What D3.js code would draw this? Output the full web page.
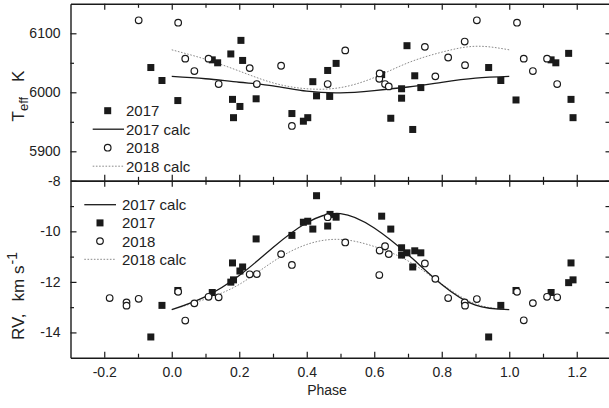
<!DOCTYPE html>
<html>
<head>
<meta charset="utf-8">
<style>
  body { margin: 0; background: #fff; }
  svg { display: block; font-family: Arial, "Liberation Sans", sans-serif; }
</style>
</head>
<body>
<svg width="609" height="408"></svg>
<script src="https://d3js.org/d3.v7.min.js"></script>
<script>

// Teff and RV against orbital phase, 2017 and 2018 observations + model curves

var teffPhase17 = [-0.062, -0.029, 0.018, 0.120, 0.136, 0.175, 0.180, 0.183, 0.202, 0.205, 0.210, 0.250,
  0.356, 0.390, 0.403, 0.418, 0.429, 0.462, 0.468, 0.487, 0.622, 0.649, 0.681, 0.681, 0.697, 0.714,
  0.720, 0.738, 0.939, 0.975, 1.020, 1.124, 1.138, 1.176, 1.183, 1.189];
var teff17 = [6042, 6020, 5986, 6055, 6050, 6065, 5988, 5957, 5976, 6088, 6054, 5989,
  5964, 5951, 5957, 6018, 5994, 6037, 5993, 6049, 6030, 5956, 6006, 5990, 6079, 5937,
  6028, 6008, 6042, 6020, 5987, 6055, 6050, 6066, 5988, 5957];

var teffPhase18 = [-0.098, 0.019, 0.040, 0.067, 0.109, 0.139, 0.231, 0.252, 0.324, 0.356, 0.462, 0.514,
  0.615, 0.616, 0.632, 0.643, 0.750, 0.781, 0.819, 0.868, 0.869, 0.904, 1.023, 1.043, 1.070, 1.112, 1.142];
var teff18 = [6122, 6118, 6057, 6036, 6057, 6014, 6041, 6014, 6045, 5943, 6014, 6071,
  6023, 6032, 6014, 6010, 6077, 6027, 6059, 6086, 6046, 6122, 6118, 6057, 6036, 6057, 6014];

var rvPhase17 = [-0.062, -0.029, 0.018, 0.120, 0.175, 0.180, 0.183, 0.202, 0.210, 0.250, 0.356, 0.390,
  0.403, 0.418, 0.429, 0.462, 0.469, 0.487, 0.622, 0.649, 0.681, 0.681, 0.697, 0.714, 0.720, 0.738,
  0.939, 0.975, 1.020, 1.124, 1.176, 1.183, 1.189];
var rv17 = [-14.18, -12.93, -12.34, -12.42, -12.01, -11.25, -11.92, -11.57, -11.41, -10.30, -10.16, -9.64,
  -9.60, -9.91, -8.59, -9.79, -9.33, -9.44, -9.40, -9.91, -10.65, -10.94, -10.85, -11.41, -10.77, -10.85,
  -14.18, -12.93, -12.34, -12.42, -12.03, -11.25, -11.92];

var rvPhase18 = [-0.184, -0.134, -0.134, -0.098, 0.019, 0.040, 0.067, 0.109, 0.139, 0.231, 0.252, 0.324,
  0.356, 0.462, 0.514, 0.615, 0.616, 0.632, 0.643, 0.750, 0.781, 0.819, 0.868, 0.869, 0.904,
  1.023, 1.043, 1.070, 1.112, 1.142];
var rv18 = [-12.64, -12.81, -12.94, -12.67, -12.39, -13.53, -12.85, -12.59, -12.61, -11.70, -11.69, -10.90,
  -11.33, -9.44, -10.44, -11.73, -10.76, -10.59, -10.90, -11.27, -11.88, -12.64, -12.81, -12.94, -12.68,
  -12.39, -13.52, -12.84, -12.59, -12.61];

// model curves
var calcPhase = [0, 0.1, 0.2, 0.3, 0.4, 0.5, 0.6, 0.7, 0.8, 0.9, 1.0];
var teffCalc17 = [6027, 6023, 6017, 6011, 6002, 5999, 6003, 6009, 6017, 6024, 6027];
var teffCalc18 = [6072, 6056, 6036, 6016, 6006, 6008, 6025, 6050, 6068, 6078, 6072];
var rvCalc17 = [-13.1, -12.58, -11.75, -10.64, -9.66, -9.30, -9.87, -10.92, -12.10, -12.92, -13.1];
var rvCalc18 = [-13.1, -12.68, -12.10, -11.20, -10.52, -10.32, -10.60, -11.17, -12.08, -12.87, -13.1];

var phaseTicks = [-0.2, 0, 0.2, 0.4, 0.6, 0.8, 1.0, 1.2];
var phaseMinor = [-0.1, 0.1, 0.3, 0.5, 0.7, 0.9, 1.1];
var teffTicks = [5900, 6000, 6100];
var teffMinor = [5950, 6050];
var rvTicks = [-14, -12, -10, -8];
var rvMinor = [-13, -11, -9];
var legendTop = ["2017", "2017 calc", "2018", "2018 calc"];
var legendBottom = ["2017 calc", "2017", "2018", "2018 calc"];

var svg = d3.select("svg");
var ink = "#1a1a1a";
var pLeft = 70.5, pRight = 610.5, pTop = 3.8, pMid = 180.8, pBottom = 357.7;

var x = d3.scaleLinear().domain([-0.3, 1.3]).range([pLeft, pRight]);
var yT = d3.scaleLinear().domain([5850, 6150]).range([pMid, pTop]);
var yR = d3.scaleLinear().domain([-15, -8]).range([pBottom, pMid]);

// plain hyphen minus like the original
function fmt(dec) {
  var f = d3.format("." + dec + "f");
  return function(d) { return f(d).replace("\u2212", "-"); };
}

function styleAxis(g) {
  g.selectAll(".domain").attr("stroke", ink).attr("stroke-width", 1.4);
  g.selectAll(".tick line").attr("stroke", ink).attr("stroke-width", 1.2);
  g.selectAll(".tick text").attr("fill", "#222").style("font-size", "14px")
    .style("font-family", "Arial, 'Liberation Sans', sans-serif");
}

function xAxes(yPos, maker, labels) {
  var a = svg.append("g").attr("transform", "translate(0," + yPos + ")")
    .call(maker(x).tickValues(phaseTicks).tickSize(-6).tickSizeOuter(0).tickPadding(9)
      .tickFormat(labels ? fmt(1) : ""));
  styleAxis(a);
  var m = svg.append("g").attr("transform", "translate(0," + yPos + ")")
    .call(maker(x).tickValues(phaseMinor).tickSize(-4).tickSizeOuter(0).tickFormat(""));
  styleAxis(m);
  m.select(".domain").remove();
}

function yAxes(scale, major, minor) {
  var a = svg.append("g").attr("transform", "translate(" + pLeft + ",0)")
    .call(d3.axisLeft(scale).tickValues(major).tickSize(-6).tickSizeOuter(0).tickPadding(10)
      .tickFormat(fmt(0)));
  styleAxis(a);
  var m = svg.append("g").attr("transform", "translate(" + pLeft + ",0)")
    .call(d3.axisLeft(scale).tickValues(minor).tickSize(-3.5).tickSizeOuter(0).tickFormat(""));
  styleAxis(m);
  m.select(".domain").remove();
  var r = svg.append("g").attr("transform", "translate(" + (pRight - 1) + ",0)")
    .call(d3.axisRight(scale).tickValues(major.concat(minor)).tickSize(-4).tickSizeOuter(0).tickFormat(""));
  styleAxis(r);
}

// frames: ticks point inward on every side
xAxes(pTop, d3.axisTop, false);
xAxes(pMid, d3.axisBottom, false);
xAxes(pMid, d3.axisTop, false);
xAxes(pBottom, d3.axisBottom, true);
yAxes(yT, teffTicks, teffMinor);
yAxes(yR, rvTicks, rvMinor);

// calc curves
function curve(yScale, vals, dotted) {
  var line = d3.line()
    .x(function(d, i) { return x(calcPhase[i]); })
    .y(function(d) { return yScale(d); })
    .curve(d3.curveNatural);
  svg.append("path")
    .datum(vals)
    .attr("fill", "none")
    .attr("stroke", dotted ? "#8a8a8a" : ink)
    .attr("stroke-width", dotted ? 1 : 1.3)
    .attr("stroke-dasharray", dotted ? "1.6,1.6" : null)
    .attr("d", line);
}
curve(yT, teffCalc18, true);
curve(yT, teffCalc17, false);
curve(yR, rvCalc18, true);
curve(yR, rvCalc17, false);

// observations
function squares(phases, vals, yScale) {
  svg.append("g").selectAll("rect")
    .data(vals)
    .join("rect")
      .attr("x", function(d, i) { return x(phases[i]) - 3.5; })
      .attr("y", function(d) { return yScale(d) - 3.5; })
      .attr("width", 7).attr("height", 7)
      .attr("fill", ink);
}
function circles(phases, vals, yScale) {
  svg.append("g").selectAll("circle")
    .data(vals)
    .join("circle")
      .attr("cx", function(d, i) { return x(phases[i]); })
      .attr("cy", function(d) { return yScale(d); })
      .attr("r", 3.3)
      .attr("fill", "#fff")
      .attr("stroke", ink)
      .attr("stroke-width", 1.2);
}
squares(teffPhase17, teff17, yT);
circles(teffPhase18, teff18, yT);
squares(rvPhase17, rv17, yR);
circles(rvPhase18, rv18, yR);

// legends
function legend(labels, x0, y0, step, cx, lx0, lx1) {
  labels.forEach(function(t, i) {
    var yy = y0 + i * step;
    if (t === "2017") {
      svg.append("rect").attr("x", cx - 3.5).attr("y", yy - 3.5).attr("width", 7).attr("height", 7).attr("fill", ink);
    } else if (t === "2018") {
      svg.append("circle").attr("cx", cx).attr("cy", yy).attr("r", 3.3)
        .attr("fill", "#fff").attr("stroke", ink).attr("stroke-width", 1.2);
    } else {
      var dotted = t === "2018 calc";
      svg.append("line").attr("x1", lx0).attr("x2", lx1).attr("y1", yy).attr("y2", yy)
        .attr("stroke", dotted ? "#8a8a8a" : ink)
        .attr("stroke-width", dotted ? 1 : 1.3)
        .attr("stroke-dasharray", dotted ? "1.6,1.6" : null);
    }
    svg.append("text").attr("x", x0).attr("y", yy).attr("dy", "0.36em")
      .attr("fill", "#222").style("font-size", "15px").text(t);
  });
}
legend(legendTop, 126, 110.7, 18.5, 107.7, 92.7, 124);
legend(legendBottom, 122, 204.7, 18.2, 100, 84.3, 116);

// axis titles
var tT = svg.append("text")
  .attr("transform", "translate(24,96) rotate(-90)")
  .attr("text-anchor", "middle")
  .attr("fill", "#222").style("font-size", "17px");
tT.append("tspan").text("T");
tT.append("tspan").attr("dy", 4).style("font-size", "13px").text("eff");
tT.append("tspan").attr("dy", -4).attr("dx", 15).text("K");

var tR = svg.append("text")
  .attr("transform", "translate(24,296) rotate(-90)")
  .attr("text-anchor", "middle")
  .attr("fill", "#222").style("font-size", "17px");
tR.append("tspan").text("RV,");
tR.append("tspan").attr("dx", 12).text("km");
tR.append("tspan").attr("dx", 5).text("s");
tR.append("tspan").attr("dy", -7).attr("dx", 1).style("font-size", "14px").text("-1");

svg.append("text")
  .attr("x", x(0.46)).attr("y", 395)
  .attr("text-anchor", "middle")
  .attr("fill", "#222").style("font-size", "14px")
  .text("Phase");

</script>
</body>
</html>
